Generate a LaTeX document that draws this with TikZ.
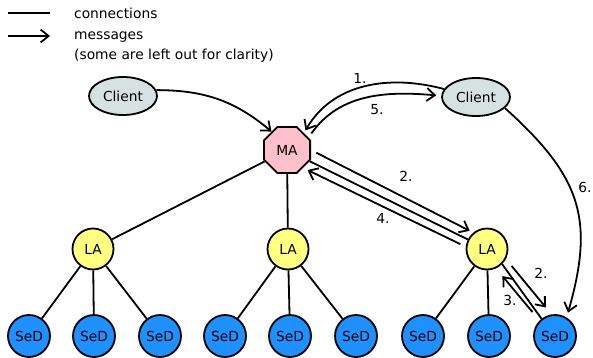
\documentclass[tikz,border=0pt]{standalone}
\usepackage{fontspec}
\setmainfont{DejaVu Sans}
\usetikzlibrary{shapes,arrows.meta}

\definecolor{clientfill}{RGB}{214,226,226}
\definecolor{mafill}{RGB}{255,192,203}
\definecolor{lafill}{RGB}{255,255,128}
\definecolor{sedfill}{RGB}{30,144,255}

\tikzset{
	client/.style={ellipse, draw, line width=1.8pt, fill=clientfill, minimum width=68pt, minimum height=38pt, inner sep=0pt},
	agent/.style={regular polygon, regular polygon sides=8, draw, line width=1.8pt, fill=mafill, minimum size=50pt, inner sep=0pt},
	local/.style={circle, draw, line width=1.8pt, fill=lafill, minimum size=41pt, inner sep=0pt},
	server/.style={circle, draw, line width=1.8pt, fill=sedfill, minimum size=42pt, inner sep=0pt},
	conn/.style={line width=1.8pt},
	msg/.style={->, line width=1.8pt},
	num/.style={inner sep=1pt}
}

\begin{document}
\begin{tikzpicture}[x=1pt, y=1pt, >={Straight Barb[length=8pt,width=13pt]}, font=\fontsize{13.8}{16}\selectfont]
	\useasboundingbox (0,0) rectangle (593,357);

	% legend
	\coordinate (l1) at (8,344);
	\coordinate (l2) at (50,344);
	\coordinate (l3) at (8,321);
	\coordinate (l4) at (50,321);
	\draw[conn] (l1) -- (l2);
	\draw[msg] (l3) -- (l4);
	\node[anchor=base west, inner sep=0pt] (lc) at (74,338) {connections};
	\node[anchor=base west, inner sep=0pt] (lm) at (74,318) {messages};
	\node[anchor=base west, inner sep=0pt] (lo) at (74,298) {(some are left out for clarity)};

	% nodes
	\node[client] (cl1) at (123,261) {Client};
	\node[client] (cl2) at (476,260) {Client};
	\node[agent] (ma) at (287,207) {MA};
	\node[local] (la1) at (93,108) {LA};
	\node[local] (la2) at (288,108) {LA};
	\node[local] (la3) at (487,108) {LA};
	\node[server] (sed1) at (29,21) {SeD};
	\node[server] (sed2) at (94,21) {SeD};
	\node[server] (sed3) at (160,21) {SeD};
	\node[server] (sed4) at (225,21) {SeD};
	\node[server] (sed5) at (290,21) {SeD};
	\node[server] (sed6) at (356,21) {SeD};
	\node[server] (sed7) at (423,21) {SeD};
	\node[server] (sed8) at (489,21) {SeD};
	\node[server] (sed9) at (555,21) {SeD};

	% connections
	\draw[conn] (ma) -- (la1);
	\draw[conn] (ma) -- (la2);
	\draw[conn] (ma) -- (la3);
	\foreach \s in {1,2,3} \draw[conn] (la1) -- (sed\s);
	\foreach \s in {4,5,6} \draw[conn] (la2) -- (sed\s);
	\foreach \s in {7,8} \draw[conn] (la3) -- (sed\s);
	\draw[conn] (la3.-45) -- (sed9.128);

	% messages
	\draw[msg] (cl1.10) to[out=0, in=140] (ma.130);
	\draw[msg, shorten >=3pt] (cl2.166) to[out=165, in=60] (ma.45);
	\draw[msg, shorten <=5pt, shorten >=5pt] (ma.30) to[out=55, in=175] (cl2.178);
	\draw[msg, shorten <=6pt, shorten >=4pt] (ma.0) -- (la3.130);
	\draw[msg, shorten <=6pt, shorten >=5pt] (la3.174) -- (ma.-48);
	\draw[msg, shorten <=9pt, shorten >=9pt] (la3.-28) -- (sed9.99);
	\draw[msg, shorten <=11pt, shorten >=10pt] (sed9.135) -- (la3.-65);
	\draw[msg, shorten >=5pt] (cl2.-21) to[out=-42, in=74, looseness=1.2] (sed9.58);

	% numbers
	\node[num] (n1) at (360,279) {1.};
	\node[num] (n5) at (377,247) {5.};
	\node[num] (n2) at (406,181) {2.};
	\node[num] (n4) at (383,139) {4.};
	\node[num] (n2b) at (541,84) {2.};
	\node[num] (n3) at (510,57) {3.};
	\node[num] (n6) at (585,170) {6.};
\end{tikzpicture}
\end{document}
